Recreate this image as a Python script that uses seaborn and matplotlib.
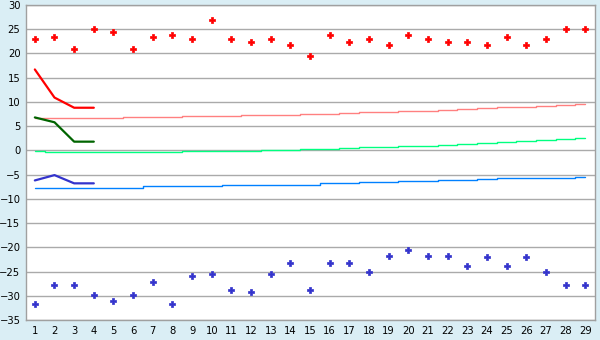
import numpy as np
import pandas as pd
import matplotlib
matplotlib.use("Agg")
import matplotlib.pyplot as plt
import seaborn as sns

days = list(range(1, 30))
high_pts = [22.9, 23.3, 21.0, 25.0, 24.4, 21.0, 23.3, 23.9, 22.9, 26.9,
            22.9, 22.3, 22.9, 21.7, 19.4, 23.9, 22.3, 22.9, 21.7, 23.9,
            22.9, 22.3, 22.3, 21.7, 23.3, 21.7, 22.9, 25.0, 25.0]
low_pts = [-31.8, -27.8, -27.8, -29.9, -31.1, -29.9, -27.2, -31.8, -26.0, -25.6,
           -28.9, -29.3, -25.6, -23.3, -28.9, -23.3, -23.3, -25.0, -21.7, -20.6,
           -21.7, -21.7, -23.9, -22.1, -23.9, -22.1, -25.0, -27.8, -27.8]
short_x = [1, 2, 3, 4]
red_line = [16.7, 10.9, 8.8, 8.8]
green_line = [6.8, 5.8, 1.8, 1.8]
blue_line = [-6.2, -5.1, -6.8, -6.8]
trend_high = [6.7, 6.7, 6.7, 6.7, 6.7, 6.9, 6.9, 6.9, 7.1, 7.1,
              7.1, 7.3, 7.3, 7.3, 7.5, 7.5, 7.7, 7.9, 7.9, 8.1,
              8.1, 8.3, 8.5, 8.75, 8.95, 8.95, 9.2, 9.4, 9.6]
trend_mid = [-0.05, -0.35, -0.35, -0.35, -0.35, -0.35, -0.35, -0.35, -0.15, -0.15,
             -0.15, -0.15, 0.0, 0.0, 0.25, 0.25, 0.45, 0.68, 0.68, 0.89,
             0.89, 1.1, 1.3, 1.5, 1.7, 1.9, 2.1, 2.3, 2.5]
trend_low = [-7.66, -7.66, -7.66, -7.66, -7.66, -7.66, -7.45, -7.45, -7.45, -7.45,
             -7.24, -7.24, -7.24, -7.04, -7.04, -6.83, -6.83, -6.62, -6.62, -6.41,
             -6.41, -6.2, -6.2, -6.0, -5.8, -5.8, -5.8, -5.6, -5.4]

sns.set_style("white")
plt.rcParams['font.family'] = ['DejaVu Sans']

bg = '#DAEEF5'
fig = plt.figure(figsize=(6, 3.4), dpi=100, facecolor=bg)
ax = fig.add_axes([26/600, 1 - 320/340, 569/600, 315/340])
ax.set_facecolor('white')

ax.set_ylim(-35, 30)
ax.set_xlim(0.55, 29.5)
ax.set_yticks(np.arange(-35, 31, 5))
ax.set_xticks(days)
ax.yaxis.grid(True, color='#AAAAAA', linewidth=1.0)
ax.xaxis.grid(False)
ax.set_axisbelow(True)

sns.lineplot(x=days, y=trend_high, ax=ax, color='#FF8080', linewidth=1.0, drawstyle='steps-mid')
sns.lineplot(x=days, y=trend_mid, ax=ax, color='#00FF80', linewidth=1.0, drawstyle='steps-mid')
sns.lineplot(x=days, y=trend_low, ax=ax, color='#0080FF', linewidth=1.0, drawstyle='steps-mid')

sns.lineplot(x=short_x, y=red_line, ax=ax, color='#FF0000', linewidth=1.6)
sns.lineplot(x=short_x, y=green_line, ax=ax, color='#006400', linewidth=1.6)
sns.lineplot(x=short_x, y=blue_line, ax=ax, color='#3333CC', linewidth=1.6)

sns.scatterplot(x=days, y=high_pts, ax=ax, color='#FF0000', marker='P', s=22,
                edgecolor='#FF0000', linewidth=0.5)
sns.scatterplot(x=days, y=low_pts, ax=ax, color='#3333CC', marker='P', s=22,
                edgecolor='#3333CC', linewidth=0.5)

for s in ax.spines.values():
    s.set_color('#A0A0A0')
    s.set_linewidth(1.0)
ax.tick_params(axis='both', which='both', length=3, color='#505050', labelsize=7.2,
               labelcolor='black', direction='out', pad=1.0)
ax.set_xlabel('')
ax.set_ylabel('')

fig.savefig('out.png', dpi=100, facecolor=bg)
